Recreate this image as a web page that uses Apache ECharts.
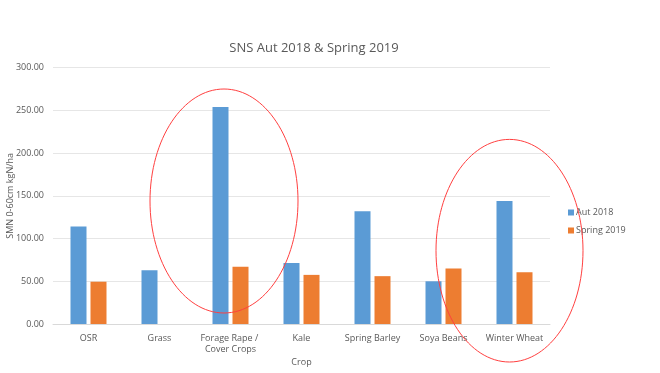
<!DOCTYPE html>
<html><head><meta charset="utf-8">
<script src="https://cdn.jsdelivr.net/npm/echarts@6/dist/echarts.min.js"></script>
<style>html,body{margin:0;padding:0;background:#fff}#c{width:660px;height:373px}</style>
</head><body><div id="c"></div>
<script>
const categories = ['OSR', 'Grass', 'Forage Rape / Cover Crops', 'Kale', 'Spring Barley', 'Soya Beans', 'Winter Wheat'];
const aut2018 = [114, 63, 254, 71.5, 132, 50, 144];
const spring2019 = [49.5, null, 67, 57.5, 56, 65, 60.5];
const yTicks = [0, 50, 100, 150, 200, 250, 300];

const font = 'Open Sans, Liberation Sans, sans-serif';
const chart = echarts.init(document.getElementById('c'), null, {renderer: 'canvas'});
const option = {
  backgroundColor: '#fff',
  animation: false,
  textStyle: {fontFamily: font},
  title: {text: 'SNS Aut 2018 & Spring 2019', left: 309, top: 37, textAlign: 'center',
    textStyle: {fontSize: 13, fontWeight: 'normal', color: '#595959', fontFamily: font}},
  legend: {orient: 'vertical', left: 563, top: 203, itemWidth: 6, itemHeight: 6, itemGap: 9,
    icon: 'rect', textStyle: {fontSize: 9, color: '#595959', padding: [0,0,0,-3]}},
  grid: {left: 53, right: 110, top: 67.7, bottom: 49, containLabel: false, outerBoundsMode: 'none'},
  xAxis: {type: 'category', data: categories, name: 'Crop', nameLocation: 'middle', nameGap: 34,
    nameMoveOverlap: false,
    nameTextStyle: {fontSize: 9, color: '#595959'},
    axisTick: {show: false}, axisLine: {lineStyle: {color: '#d9d9d9'}},
    axisLabel: {fontSize: 9, color: '#595959', margin: 9, width: 68, overflow: 'break', lineHeight: 11, interval: 0}},
  yAxis: {type: 'value', min: yTicks[0], max: yTicks[yTicks.length-1], interval: 50,
    name: 'SMN 0-60cm kgN/ha', nameLocation: 'middle', nameGap: 43, nameRotate: 90,
    nameMoveOverlap: false,
    nameTextStyle: {fontSize: 9, color: '#595959', verticalAlign: 'middle'},
    axisLine: {show: false}, axisTick: {show: false},
    axisLabel: {fontSize: 9, color: '#595959', margin: 9, formatter: v => v.toFixed(2)},
    splitLine: {lineStyle: {color: '#e6e6e6'}}},
  series: [
    {name: 'Aut 2018', type: 'bar', data: aut2018, barWidth: 16, barGap: '25%',
      itemStyle: {color: '#5b9bd5'}},
    {name: 'Spring 2019', type: 'bar', data: spring2019, barWidth: 16,
      itemStyle: {color: '#ed7d31'}}
  ],
  graphic: [
    {type: 'ellipse', shape: {cx: 224, cy: 201, rx: 74, ry: 112}, z: 100,
      style: {fill: null, stroke: '#ff4040', lineWidth: 1}},
    {type: 'ellipse', shape: {cx: 509.5, cy: 250.7, rx: 73.5, ry: 111.3}, z: 100,
      style: {fill: null, stroke: '#ff4040', lineWidth: 1}}
  ]
};
chart.setOption(option);
</script></body></html>
